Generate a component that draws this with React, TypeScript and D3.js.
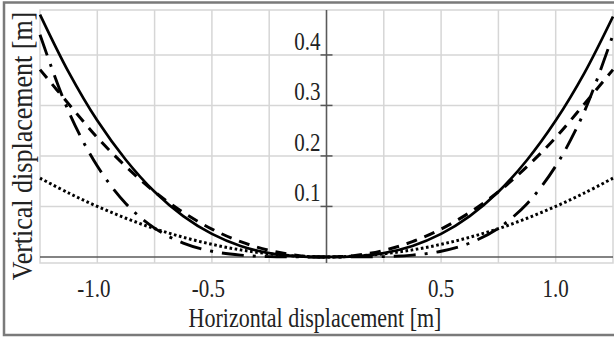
import React, { useRef, useEffect } from "react";
import * as d3 from "d3";

// horizontal positions [m]
const xValues = [-1.25, -1.125, -1.0, -0.875, -0.75, -0.625, -0.5, -0.375, -0.25, -0.125, 0,
  0.125, 0.25, 0.375, 0.5, 0.625, 0.75, 0.875, 1.0, 1.125, 1.25];

// vertical displacement [m] for each line style
const solidValues = [0.48, 0.366, 0.27, 0.192, 0.129, 0.0808, 0.0456, 0.0218, 0.0077, 0.0013, 0,
  0.0013, 0.0077, 0.0218, 0.0456, 0.0808, 0.129, 0.192, 0.27, 0.364, 0.476];
const dashedValues = [0.371, 0.303, 0.2365, 0.179, 0.129, 0.0881, 0.0552, 0.0302, 0.0129, 0.003, 0,
  0.003, 0.0129, 0.0302, 0.0552, 0.0881, 0.129, 0.179, 0.2365, 0.303, 0.371];
const dashDotValues = [0.44, 0.288, 0.18, 0.1055, 0.057, 0.0275, 0.0113, 0.0036, 0.0007, 0.0001, 0,
  0.0001, 0.0007, 0.0036, 0.0113, 0.0275, 0.057, 0.1055, 0.18, 0.288, 0.44];
const dottedValues = [0.156, 0.1266, 0.1, 0.0766, 0.056, 0.039, 0.025, 0.014, 0.0063, 0.0016, 0,
  0.0016, 0.0063, 0.014, 0.025, 0.039, 0.056, 0.0766, 0.1, 0.1266, 0.156];

const xTickLabels = [-1.0, -0.5, 0.5, 1.0];
const yTickLabels = [0.1, 0.2, 0.3, 0.4];
const xGrid = [-1.0, -0.75, -0.5, -0.25, 0.25, 0.5, 0.75, 1.0];

const App = () => {
  const svgRef = useRef<SVGSVGElement>(null);

  useEffect(() => {
    const svg = d3.select(svgRef.current);
    svg.selectAll("*").remove();

    const width = 614;
    const height = 340;
    const left = 40, right = 613, top = 10, bottom = 263;

    const x = d3.scaleLinear().domain([-1.25, 1.25]).range([left, right]);
    const y = d3.scaleLinear().domain([-0.012, 0.489]).range([bottom, top]);

    svg.append("rect").attr("width", width).attr("height", height).attr("fill", "#fff");

    // outer frame (right side cut off)
    svg.append("rect")
      .attr("x", 4).attr("y", 2.5)
      .attr("width", 620).attr("height", 332.5)
      .attr("fill", "none")
      .attr("stroke", "#7a7a7a")
      .attr("stroke-width", 2.5);

    // plot area border
    svg.append("rect")
      .attr("x", left).attr("y", top)
      .attr("width", right - left).attr("height", bottom - top)
      .attr("fill", "none")
      .attr("stroke", "#d6d6d6")
      .attr("stroke-width", 1.5);

    const grid = svg.append("g").attr("stroke", "#d6d6d6").attr("stroke-width", 1.5);
    grid.selectAll("line.v")
      .data(xGrid)
      .join("line")
      .attr("class", "v")
      .attr("x1", d => x(d)).attr("x2", d => x(d))
      .attr("y1", top).attr("y2", bottom);
    grid.selectAll("line.h")
      .data(yTickLabels)
      .join("line")
      .attr("class", "h")
      .attr("x1", left).attr("x2", right)
      .attr("y1", d => y(d)).attr("y2", d => y(d));

    // axes through zero
    svg.append("line")
      .attr("x1", left).attr("x2", right)
      .attr("y1", y(0)).attr("y2", y(0))
      .attr("stroke", "#5a5a5a").attr("stroke-width", 1.6);
    svg.append("line")
      .attr("x1", x(0)).attr("x2", x(0))
      .attr("y1", top).attr("y2", bottom)
      .attr("stroke", "#5a5a5a").attr("stroke-width", 1.6);

    svg.append("g")
      .selectAll("line")
      .data(yTickLabels)
      .join("line")
      .attr("x1", x(0) - 6).attr("x2", x(0) + 6)
      .attr("y1", d => y(d)).attr("y2", d => y(d))
      .attr("stroke", "#555").attr("stroke-width", 1.5);

    // curves
    const pts = (vals: number[]) => xValues.map((xv, i) => [xv, vals[i]] as [number, number]);
    const line = d3.line<[number, number]>()
      .x(d => x(d[0]))
      .y(d => y(d[1]))
      .curve(d3.curveCatmullRom.alpha(0.5));

    const series = [
      { vals: dottedValues, dash: "2.6,2.6", w: 3 },
      { vals: dashDotValues, dash: "22,9,3,9", w: 2.9 },
      { vals: dashedValues, dash: "11,8", w: 3 },
      { vals: solidValues, dash: null, w: 2.7 }
    ];

    svg.append("clipPath").attr("id", "plotClip")
      .append("rect")
      .attr("x", left - 2).attr("y", top - 4)
      .attr("width", right - left + 4).attr("height", bottom - top + 8);

    const curves = svg.append("g").attr("clip-path", "url(#plotClip)");
    series.forEach(s => {
      curves.append("path")
        .attr("d", line(pts(s.vals)))
        .attr("fill", "none")
        .attr("stroke", "#000")
        .attr("stroke-width", s.w)
        .attr("stroke-dasharray", s.dash)
        .attr("stroke-linecap", "butt");
    });

    const font = "'Liberation Serif', 'Times New Roman', serif";

    // y tick labels
    svg.append("g")
      .selectAll("text")
      .data(yTickLabels)
      .join("text")
      .attr("transform", d => `translate(${x(0) - 6},${y(d) - 5}) scale(1,1.18)`)
      .attr("text-anchor", "end")
      .attr("font-family", font)
      .attr("font-size", 21)
      .attr("fill", "#222")
      .text(d => d.toFixed(1));

    // x tick labels (numeral centred on tick, minus hanging left)
    svg.append("g")
      .selectAll("text")
      .data(xTickLabels)
      .join("text")
      .attr("transform", d => `translate(${x(d) + (d < 0 ? -3.5 : 0)},${296.5}) scale(1,1.18)`)
      .attr("text-anchor", "middle")
      .attr("font-family", font)
      .attr("font-size", 21)
      .attr("fill", "#222")
      .text(d => d.toFixed(1));

    svg.append("text")
      .attr("transform", "translate(315,326.5) scale(1,1.25)")
      .attr("text-anchor", "middle")
      .attr("font-family", font)
      .attr("font-size", 22)
      .attr("fill", "#222")
      .text("Horizontal displacement [m]");

    svg.append("text")
      .attr("transform", "translate(31.5,146) rotate(-90) scale(1,1.1)")
      .attr("text-anchor", "middle")
      .attr("font-family", font)
      .attr("font-size", 26)
      .attr("fill", "#222")
      .text("Vertical displacement [m]");
  }, []);

  return (
    <svg
      ref={svgRef}
      width={614}
      height={340}
      style={{ position: "absolute", left: 0, top: 0, display: "block" }}
    ></svg>
  );
};

export default App;
